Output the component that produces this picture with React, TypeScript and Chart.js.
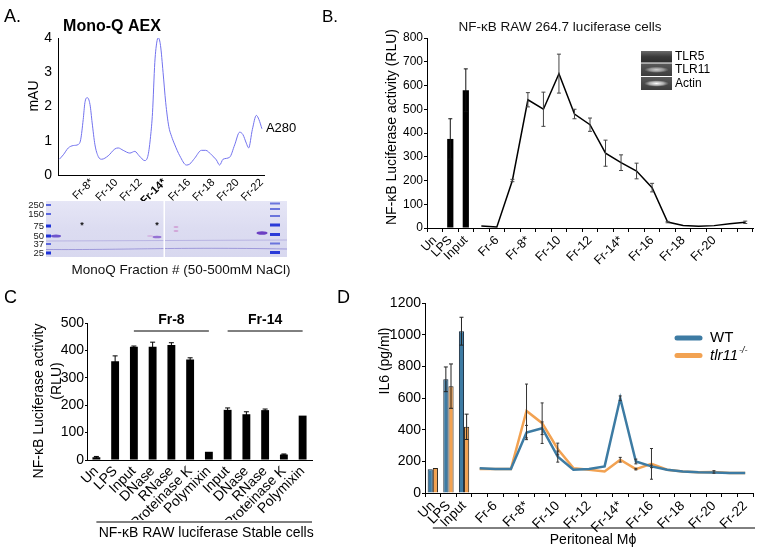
import React, { useEffect, useRef } from 'react';
import { Chart, registerables } from 'chart.js';

Chart.register(...registerables);

const W = 762;
const H = 551;
const SANS = "'Liberation Sans', Arial, Helvetica, sans-serif";

// ---------------- Panel A : Mono-Q AEX chromatogram ----------------
const aexFraction = [5.31, 5.64, 6.05, 6.46, 6.87, 7.07, 7.28, 7.42, 7.61, 7.84, 8.02, 8.25, 8.52, 8.8, 9.34, 9.89, 10.17, 10.58, 11.13, 11.54, 11.9, 12.37, 12.64, 12.84, 13.0, 13.19, 13.38, 13.49, 13.66, 13.87, 14.09, 14.34, 14.57, 14.84, 15.25, 15.8, 16.07, 16.48, 17.04, 17.39, 17.86, 18.27, 18.54, 18.82, 19.37, 19.78, 20.19, 20.46, 20.74, 20.93, 21.24, 21.57, 21.78, 22.03];
const aexMAU = [0.46, 0.59, 0.79, 0.86, 0.89, 1.03, 1.62, 2.11, 2.26, 2.06, 1.52, 0.88, 0.54, 0.46, 0.56, 0.76, 0.79, 0.72, 0.64, 0.69, 0.56, 0.42, 0.59, 1.13, 1.82, 3.29, 3.93, 4.0, 3.78, 3.0, 2.11, 1.42, 1.13, 0.88, 0.56, 0.29, 0.32, 0.49, 0.72, 0.72, 0.59, 0.44, 0.29, 0.46, 0.52, 0.88, 1.25, 1.18, 0.93, 0.79, 1.33, 1.74, 1.62, 1.35];
const aexTickFractions = [8, 10, 12, 14, 16, 18, 20, 22];
const aexTickLabels = ['Fr-8*', 'Fr-10', 'Fr-12', 'Fr-14*', 'Fr-16', 'Fr-18', 'Fr-20', 'Fr-22'];
const gelMarkers = ['250', '150', '75', '50', '37', '25'];

// ---------------- Panel B : NF-kB RAW 264.7 luciferase ----------------
const bCategories = ['Un', 'LPS', 'Input', 'Fr-5', 'Fr-6', 'Fr-7', 'Fr-8', 'Fr-9', 'Fr-10', 'Fr-11', 'Fr-12', 'Fr-13', 'Fr-14', 'Fr-15', 'Fr-16', 'Fr-17', 'Fr-18', 'Fr-19', 'Fr-20', 'Fr-21', 'Fr-22'];
const bTickLabels = ['Un', 'LPS', 'Input', '', 'Fr-6', '', 'Fr-8*', '', 'Fr-10', '', 'Fr-12', '', 'Fr-14*', '', 'Fr-16', '', 'Fr-18', '', 'Fr-20', '', ''];
const bBarValues = [2, 375, 580, null, null, null, null, null, null, null, null, null, null, null, null, null, null, null, null, null, null];
const bBarErrors = [0, 85, 90, 0, 0, 0, 0, 0, 0, 0, 0, 0, 0, 0, 0, 0, 0, 0, 0, 0, 0];
const bLineValues = [null, null, null, 8, 4, 200, 540, 500, 650, 480, 435, 315, 275, 240, 170, 25, 11, 7, 10, 18, 24];
const bLineErrors = [0, 0, 0, 0, 0, 5, 30, 72, 82, 20, 28, 55, 33, 33, 18, 3, 0, 0, 0, 0, 5];
const bInsetLabels = ['TLR5', 'TLR11', 'Actin'];

// ---------------- Panel C : treatments ----------------
const cCategories = ['Un', 'LPS', 'Input', 'DNase', 'RNase', 'Proteinase K', 'Polymixin', 'Input', 'DNase', 'RNase', 'Proteinase K', 'Polymixin'];
const cValues = [10, 360, 413, 413, 420, 367, 30, 183, 167, 182, 20, 162];
const cErrors = [3, 20, 3, 17, 8, 6, 0, 7, 9, 4, 2, 0];
const cGroupLabels = ['Fr-8', 'Fr-14'];
const cGroupStart = [2, 7];
const cGroupEnd = [6, 11];

// ---------------- Panel D : IL6 peritoneal macrophages ----------------
const dCategories = bCategories;
const dTickLabels = ['Un', 'LPS', 'Input', '', 'Fr-6', '', 'Fr-8*', '', 'Fr-10', '', 'Fr-12', '', 'Fr-14*', '', 'Fr-16', '', 'Fr-18', '', 'Fr-20', '', 'Fr-22'];
const dLegendLabels = ['WT', 'tlr11'];
const dWtBars = [150, 718, 1022];
const dWtBarErrors = [0, 78, 88];
const dKoBars = [158, 675, 418];
const dKoBarErrors = [0, 140, 80];
const dWtLine = [null, null, null, 157, 151, 151, 382, 409, 230, 147, 151, 168, 598, 199, 168, 147, 136, 131, 130, 127, 126];
const dWtLineErrors = [0, 0, 0, 0, 0, 0, 45, 40, 35, 0, 0, 0, 15, 15, 8, 0, 0, 0, 0, 0, 0];
const dKoLine = [null, null, null, 151, 151, 151, 518, 441, 278, 157, 147, 136, 210, 151, 184, 147, 136, 131, 133, 127, 126];
const dKoLineErrors = [0, 0, 0, 0, 0, 0, 170, 128, 37, 0, 0, 0, 15, 5, 97, 0, 0, 0, 8, 0, 0];

const WT_BLUE = '#3d7ba3';
const KO_ORANGE = '#f2a252';

// ---------------- helpers ----------------
const errorBarPlugin = {
  id: 'errorBars',
  afterDatasetsDraw(chart: any) {
    const ctx = chart.ctx;
    chart.data.datasets.forEach((ds: any, i: number) => {
      const errs = ds.errors;
      if (!errs) return;
      const meta = chart.getDatasetMeta(i);
      const yScale = chart.scales[meta.yAxisID];
      ctx.save();
      ctx.strokeStyle = ds.errorColor || '#000';
      ctx.lineWidth = ds.errorWidth || 1;
      const cap = ds.errorCap ?? 2;
      meta.data.forEach((el: any, j: number) => {
        const v = ds.data[j];
        const e = errs[j];
        if (v == null || !e) return;
        const x = el.x;
        const yt = yScale.getPixelForValue(v + e);
        const yb = yScale.getPixelForValue(Math.max(v - e, 0));
        ctx.beginPath();
        ctx.moveTo(x, yt); ctx.lineTo(x, yb);
        ctx.moveTo(x - cap, yt); ctx.lineTo(x + cap, yt);
        ctx.moveTo(x - cap, yb); ctx.lineTo(x + cap, yb);
        ctx.stroke();
      });
      ctx.restore();
    });
  },
};

function txt(ctx: any, s: string, x: number, y: number, font: string, align = 'left', color = '#000') {
  ctx.save();
  ctx.font = font;
  ctx.fillStyle = color;
  ctx.textAlign = align;
  ctx.textBaseline = 'middle';
  ctx.fillText(s, x, y);
  ctx.restore();
}

function vtxt(ctx: any, s: string, x: number, y: number, font: string) {
  ctx.save();
  ctx.translate(x, y);
  ctx.rotate(-Math.PI / 2);
  ctx.font = font;
  ctx.fillStyle = '#000';
  ctx.textAlign = 'center';
  ctx.textBaseline = 'middle';
  ctx.fillText(s, 0, 0);
  ctx.restore();
}

function hline(ctx: any, x1: number, x2: number, y: number, w = 1) {
  ctx.save();
  ctx.strokeStyle = '#000';
  ctx.lineWidth = w;
  ctx.beginPath();
  ctx.moveTo(x1, y);
  ctx.lineTo(x2, y);
  ctx.stroke();
  ctx.restore();
}

function yAxis(o: any) {
  return {
    min: o.min,
    max: o.max,
    ticks: { stepSize: o.step, font: o.font, color: '#000', padding: o.pad ?? 3, callback: (v: any) => String(v) },
    grid: { display: true, drawOnChartArea: false, drawTicks: o.tick > 0, tickLength: o.tick || 0, color: '#000', lineWidth: 1 },
    border: { display: true, color: '#000', width: 1 },
    title: { display: false },
    afterFit: (s: any) => { s.width = o.width; s.paddingTop = 0; s.paddingBottom = 0; },
  };
}

function xCatAxis(o: any) {
  return {
    type: 'category',
    offset: true,
    ticks: {
      autoSkip: false, minRotation: 45, maxRotation: 45, font: o.font, color: '#000', padding: o.pad ?? 2,
      callback: (_v: any, i: number) => o.labels[i],
    },
    grid: { display: true, offset: true, drawOnChartArea: false, drawTicks: o.tick > 0, tickLength: o.tick || 0, color: '#000', lineWidth: 1 },
    border: { display: true, color: '#000', width: 1 },
    afterFit: (s: any) => { s.height = o.height; s.paddingLeft = 0; s.paddingRight = 0; },
  };
}

const baseOptions = {
  responsive: false,
  devicePixelRatio: 1,
  animation: false,
  events: [],
  plugins: { legend: { display: false }, tooltip: { enabled: false } },
};

// ---------------- gel drawings ----------------
function drawGel(ctx: any) {
  const gx = 46, gy = 201, gw = 241, gh = 56;
  ctx.save();
  const bg = ctx.createLinearGradient(0, gy, 0, gy + gh);
  bg.addColorStop(0, '#e6e6f6');
  bg.addColorStop(0.5, '#dcdcf1');
  bg.addColorStop(1, '#d8d8ef');
  ctx.fillStyle = bg;
  ctx.fillRect(gx, gy, gw, gh);
  ctx.strokeStyle = 'rgba(120,110,200,0.35)';
  ctx.lineWidth = 1;
  ctx.beginPath(); ctx.moveTo(gx, 241); ctx.lineTo(gx + gw, 240); ctx.stroke();
  ctx.strokeStyle = 'rgba(110,100,200,0.55)';
  ctx.beginPath(); ctx.moveTo(gx, 249.5); ctx.bezierCurveTo(130, 250, 170, 247, gx + gw, 249); ctx.stroke();
  ctx.fillStyle = '#ffffff';
  ctx.fillRect(163.5, gy, 1.5, gh);
  const my = [205, 214, 226, 236, 244, 253];
  const strong = [false, false, true, true, false, true];
  gelMarkers.forEach((m, i) => {
    ctx.fillStyle = strong[i] ? '#1f33d8' : '#5a66de';
    ctx.fillRect(gx, my[i] - (strong[i] ? 1.5 : 1), 5, strong[i] ? 3 : 2);
    txt(ctx, m, 44, my[i], `9.5px ${SANS}`, 'right', '#222');
  });
  const ry = [203.5, 209, 216, 225, 234.5, 243.5, 252.5];
  const rs = [false, false, false, true, true, false, true];
  ry.forEach((y, i) => {
    ctx.fillStyle = rs[i] ? '#2a3ad8' : '#6b74dc';
    ctx.fillRect(270, y - (rs[i] ? 1.5 : 1), 10, rs[i] ? 3 : 2);
  });
  const band = (x: number, y: number, w: number, h: number, c: string) => {
    ctx.fillStyle = c;
    ctx.beginPath();
    ctx.ellipse(x, y, w / 2, h / 2, 0, 0, Math.PI * 2);
    ctx.fill();
  };
  band(56, 236, 10, 3, 'rgba(90,60,200,0.85)');
  band(157, 237, 9, 2.5, 'rgba(120,70,200,0.7)');
  band(176, 227, 5, 2, 'rgba(200,110,190,0.5)');
  band(176, 231, 5, 2, 'rgba(200,110,190,0.5)');
  band(262, 233, 11, 3.5, 'rgba(95,45,190,0.9)');
  band(150, 236, 6, 2, 'rgba(200,120,200,0.35)');
  txt(ctx, '*', 82, 226, `bold 9px ${SANS}`, 'center', '#111');
  txt(ctx, '*', 157, 226, `bold 9px ${SANS}`, 'center', '#111');
  ctx.restore();
}

function drawInset(ctx: any) {
  const x = 641, w = 31;
  const rows = [[51, 11.5, 0.0], [63.5, 12.5, 0.75], [77, 13, 1.0]];
  bInsetLabels.forEach((lab, i) => {
    const [y, h, glow] = rows[i];
    ctx.save();
    const g = ctx.createLinearGradient(0, y, 0, y + h);
    g.addColorStop(0, i === 0 ? '#6a6a6a' : '#5a5a5a');
    g.addColorStop(0.5, i === 0 ? '#3a3a3a' : '#4a4a4a');
    g.addColorStop(1, i === 0 ? '#2e2e2e' : '#3d3d3d');
    ctx.fillStyle = g;
    ctx.fillRect(x, y, w, h);
    if (glow > 0) {
      ctx.translate(x + w / 2, y + h / 2);
      ctx.scale(w * 0.4, h * 0.25);
      const rg = ctx.createRadialGradient(0, 0, 0, 0, 0, 1);
      rg.addColorStop(0, `rgba(255,255,255,${glow})`);
      rg.addColorStop(0.6, `rgba(235,235,235,${glow * 0.6})`);
      rg.addColorStop(1, 'rgba(200,200,200,0)');
      ctx.fillStyle = rg;
      ctx.beginPath();
      ctx.arc(0, 0, 1, 0, Math.PI * 2);
      ctx.fill();
    }
    ctx.restore();
    txt(ctx, lab, 675, y + h / 2, `12px ${SANS}`, 'left');
  });
}

// ---------------- chart configs ----------------
function makeA(): any {
  return {
    type: 'line',
    data: {
      datasets: [{
        data: aexFraction.map((f, i) => ({ x: f, y: aexMAU[i] })),
        borderColor: '#7272ee',
        borderWidth: 1,
        pointRadius: 0,
        cubicInterpolationMode: 'monotone',
        fill: false,
      }],
    },
    options: {
      ...baseOptions,
      layout: { padding: { left: 25.6, top: 38, right: 498, bottom: 336 } },
      scales: {
        x: {
          type: 'linear',
          min: 5.2,
          max: 22.2,
          afterBuildTicks: (s: any) => { s.ticks = aexTickFractions.map((v) => ({ value: v })); },
          ticks: {
            autoSkip: false, minRotation: 45, maxRotation: 45, color: '#000', padding: 1,
            callback: (v: any) => aexTickLabels[aexTickFractions.indexOf(v)],
            font: (c: any) => ({ family: SANS, size: 11, weight: c.tick && c.tick.value === 14 ? 'bold' : 'normal' }),
          },
          grid: { display: true, drawOnChartArea: false, drawTicks: false, color: '#000' },
          border: { display: true, color: '#000', width: 1 },
          afterFit: (s: any) => { s.height = 40; s.paddingLeft = 0; s.paddingRight = 0; },
        },
        y: yAxis({ min: 0, max: 4, step: 1, width: 32.4, pad: 6, tick: 0, font: { family: SANS, size: 14 } }),
      },
    },
    plugins: [{
      id: 'panelA',
      afterDraw(chart: any) {
        const ctx = chart.ctx;
        txt(ctx, 'A.', 4, 17, `18px ${SANS}`);
        txt(ctx, 'Mono-Q AEX', 112, 27, `bold 16px ${SANS}`, 'center');
        vtxt(ctx, 'mAU', 34, 96, `14px ${SANS}`);
        const meta = chart.getDatasetMeta(0);
        const last = meta.data[meta.data.length - 1];
        txt(ctx, 'A280', last.x + 4, last.y, `13px ${SANS}`);
        drawGel(ctx);
        txt(ctx, 'MonoQ Fraction # (50-500mM NaCl)', 181, 270, `13.5px ${SANS}`, 'center', '#111');
      },
    }],
  };
}

function makeB(): any {
  return {
    type: 'bar',
    data: {
      labels: bCategories,
      datasets: [
        {
          type: 'bar', data: bBarValues, errors: bBarErrors, backgroundColor: '#000', borderWidth: 0,
          barPercentage: 0.4, categoryPercentage: 1, errorColor: '#111', errorCap: 2,
        },
        {
          type: 'line', data: bLineValues, errors: bLineErrors, borderColor: '#000', borderWidth: 1.5,
          pointRadius: 0, tension: 0, spanGaps: false, errorColor: '#444', errorCap: 2,
        },
      ],
    },
    options: {
      ...baseOptions,
      layout: { padding: { left: 383.6, top: 38, right: 9, bottom: 273 } },
      scales: {
        x: xCatAxis({ labels: bTickLabels, font: { family: SANS, size: 12.5 }, tick: 4, height: 50, pad: 1 }),
        y: yAxis({ min: 0, max: 800, step: 100, width: 43.4, pad: 1, tick: 3, font: { family: SANS, size: 12 } }),
      },
    },
    plugins: [errorBarPlugin, {
      id: 'panelB',
      afterDraw(chart: any) {
        const ctx = chart.ctx;
        txt(ctx, 'B.', 322, 17, `17px ${SANS}`);
        txt(ctx, 'NF-κB RAW 264.7 luciferase cells', 560, 27, `13.5px ${SANS}`, 'center', '#111');
        vtxt(ctx, 'NF-κB Luciferase activity (RLU)', 392, 127, `14px ${SANS}`);
        drawInset(ctx);
      },
    }],
  };
}

function makeC(): any {
  return {
    type: 'bar',
    data: {
      labels: cCategories,
      datasets: [{
        data: cValues, errors: cErrors, backgroundColor: '#000', borderWidth: 0,
        barPercentage: 0.42, categoryPercentage: 1, errorColor: '#000', errorCap: 2.5,
      }],
    },
    options: {
      ...baseOptions,
      layout: { padding: { left: 30, top: 323, right: 450, bottom: 31 } },
      scales: {
        x: xCatAxis({ labels: cCategories, font: { family: SANS, size: 14 }, tick: 0, height: 60, pad: 3 }),
        y: yAxis({ min: 0, max: 500, step: 100, width: 57, pad: 1, tick: 2, font: { family: SANS, size: 14 } }),
      },
    },
    plugins: [errorBarPlugin, {
      id: 'panelC',
      afterDraw(chart: any) {
        const ctx = chart.ctx;
        const xs = chart.scales.x;
        txt(ctx, 'C', 4, 298, `18px ${SANS}`);
        vtxt(ctx, 'NF-κB Luciferase activity', 39, 401, `14px ${SANS}`);
        vtxt(ctx, '(RLU)', 57, 381, `14px ${SANS}`);
        cGroupLabels.forEach((g, i) => {
          const x1 = xs.getPixelForValue(cGroupStart[i]);
          const x2 = xs.getPixelForValue(cGroupEnd[i]);
          hline(ctx, x1, x2, 331, 1);
          txt(ctx, g, (x1 + x2) / 2, 320, `bold 14px ${SANS}`, 'center');
        });
        const bx1 = xs.getPixelForValue(0);
        hline(ctx, bx1, chart.chartArea.right, 522, 1);
        txt(ctx, 'NF-κB RAW luciferase Stable cells', (bx1 + chart.chartArea.right) / 2 + 2, 533, `14px ${SANS}`, 'center');
      },
    }],
  };
}

function makeD(): any {
  return {
    type: 'bar',
    data: {
      labels: dCategories,
      datasets: [
        { type: 'line', label: 'WT', data: dWtLine, errors: dWtLineErrors, borderColor: WT_BLUE, borderWidth: 2.5, pointRadius: 0, tension: 0, errorColor: '#333', errorCap: 1.5 },
        { type: 'line', label: 'tlr11', data: dKoLine, errors: dKoLineErrors, borderColor: KO_ORANGE, borderWidth: 2.5, pointRadius: 0, tension: 0, errorColor: '#333', errorCap: 1.5 },
        { type: 'bar', data: dWtBars, errors: dWtBarErrors, backgroundColor: WT_BLUE, borderColor: '#16283a', borderWidth: 1, barPercentage: 1, categoryPercentage: 0.66, errorColor: '#222', errorCap: 2 },
        { type: 'bar', data: dKoBars, errors: dKoBarErrors, backgroundColor: KO_ORANGE, borderColor: '#2a2218', borderWidth: 1, barPercentage: 1, categoryPercentage: 0.66, errorColor: '#222', errorCap: 2 },
      ],
    },
    options: {
      ...baseOptions,
      layout: { padding: { left: 377.6, top: 303, right: 9, bottom: 8 } },
      scales: {
        x: xCatAxis({ labels: dTickLabels, font: { family: SANS, size: 13.5 }, tick: 4, height: 50, pad: 1 }),
        y: yAxis({ min: 0, max: 1200, step: 200, width: 47.4, pad: 1, tick: 3, font: { family: SANS, size: 14 } }),
      },
    },
    plugins: [errorBarPlugin, {
      id: 'panelD',
      afterDraw(chart: any) {
        const ctx = chart.ctx;
        const xs = chart.scales.x;
        txt(ctx, 'D', 337, 298, `18px ${SANS}`);
        vtxt(ctx, 'IL6 (pg/ml)', 385, 361, `14px ${SANS}`);
        const ly = [338, 355.5];
        chart.data.datasets.slice(0, 2).forEach((ds: any, i: number) => {
          ctx.save();
          ctx.strokeStyle = ds.borderColor;
          ctx.lineWidth = 5;
          ctx.lineCap = 'round';
          ctx.beginPath();
          ctx.moveTo(677, ly[i]);
          ctx.lineTo(700, ly[i]);
          ctx.stroke();
          ctx.restore();
        });
        txt(ctx, dLegendLabels[0], 710, ly[0], `15px ${SANS}`);
        ctx.save();
        ctx.font = `italic 15px ${SANS}`;
        const w = ctx.measureText(dLegendLabels[1]).width;
        ctx.restore();
        txt(ctx, dLegendLabels[1], 710, ly[1], `italic 15px ${SANS}`);
        txt(ctx, '-/-', 711 + w, ly[1] - 5, `italic 9px ${SANS}`);
        const bx1 = xs.getPixelForValue(0);
        hline(ctx, bx1, chart.chartArea.right + 2, 528, 1);
        txt(ctx, 'Peritoneal Mϕ', 593, 540, `14px ${SANS}`, 'center');
      },
    }],
  };
}

export default function App() {
  const r0 = useRef<HTMLCanvasElement>(null);
  const r1 = useRef<HTMLCanvasElement>(null);
  const r2 = useRef<HTMLCanvasElement>(null);
  const r3 = useRef<HTMLCanvasElement>(null);
  const refs = [r0, r1, r2, r3];

  useEffect(() => {
    const makers = [makeA, makeB, makeC, makeD];
    const charts = makers.map((m, i) => new Chart(refs[i].current as HTMLCanvasElement, m()));
    return () => charts.forEach((c) => c.destroy());
  }, []);

  return (
    <div style={{ position: 'fixed', left: 0, top: 0, width: W, height: H, background: '#fff', overflow: 'hidden' }}>
      {refs.map((r, i) => (
        <canvas key={i} ref={r} width={W} height={H}
          style={{ position: 'absolute', left: 0, top: 0, width: W, height: H, pointerEvents: 'none' }} />
      ))}
    </div>
  );
}
